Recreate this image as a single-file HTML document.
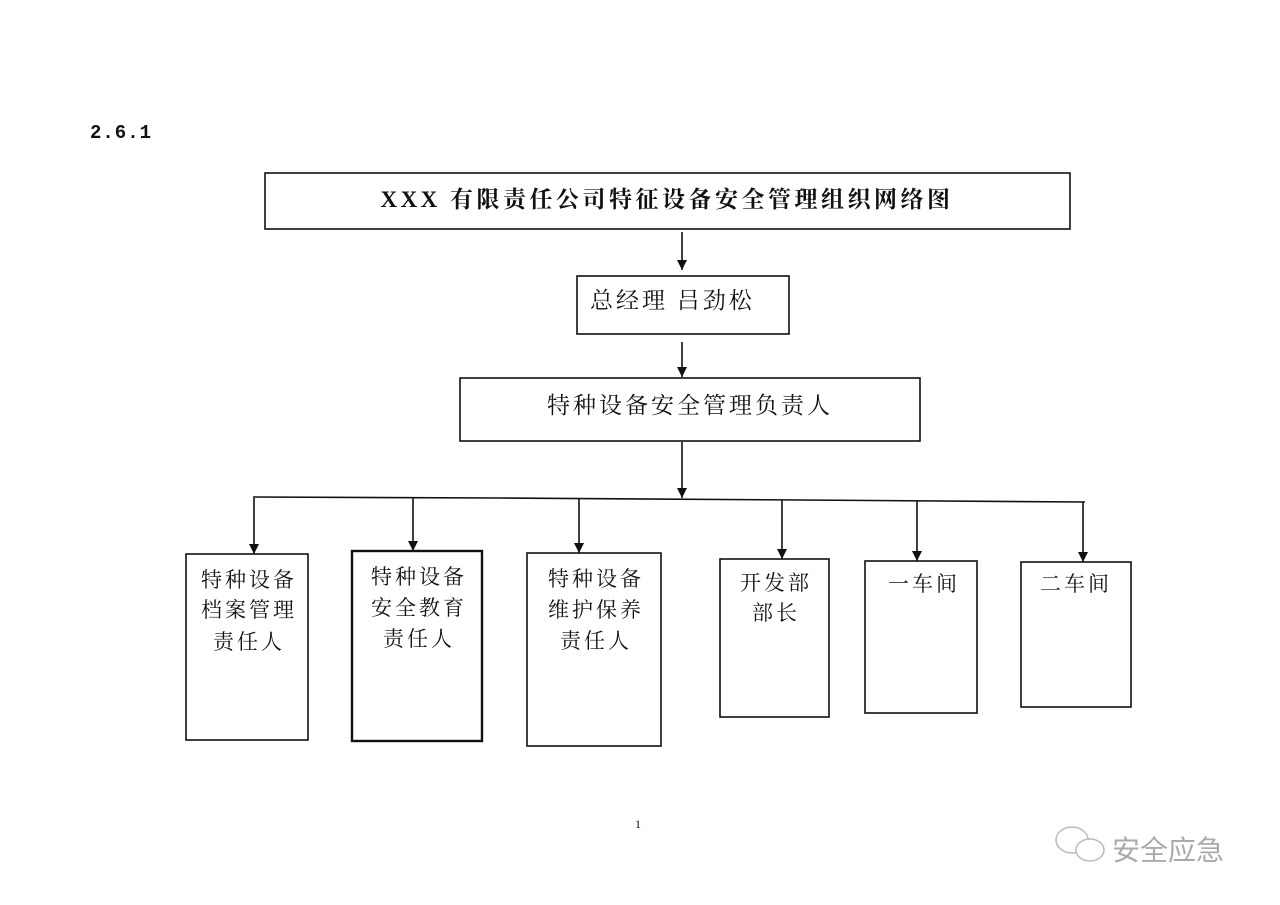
<!DOCTYPE html>
<html><head><meta charset="utf-8"><style>
body{margin:0;background:#fff;}
svg{display:block;}
text{font-family:"Liberation Serif","Noto Serif CJK SC","Noto Sans CJK SC",serif;fill:#111;}
</style></head><body>
<svg width="1280" height="905" viewBox="0 0 1280 905" xmlns="http://www.w3.org/2000/svg">
<defs><marker id="a" markerWidth="10" markerHeight="10" refX="10" refY="5" orient="auto" markerUnits="userSpaceOnUse"><path d="M0,0 L10,5 L0,10 z" fill="#111"/></marker></defs>
<text x="90" y="138" font-size="19" font-weight="bold" style="font-family:'Liberation Mono',monospace;letter-spacing:1px">2.6.1</text>
<g fill="none" stroke="#111" stroke-width="1.6">
<rect x="265" y="173" width="805" height="56"/>
<rect x="577" y="276" width="212" height="58"/>
<rect x="460" y="378" width="460" height="63"/>
<rect x="186" y="554" width="122" height="186"/>
<rect x="352" y="551" width="130" height="190" stroke-width="2.4"/>
<rect x="527" y="553" width="134" height="193"/>
<rect x="720" y="559" width="109" height="158"/>
<rect x="865" y="561" width="112" height="152"/>
<rect x="1021" y="562" width="110" height="145"/>
<line x1="682" y1="232" x2="682" y2="270" marker-end="url(#a)"/>
<line x1="682" y1="342" x2="682" y2="377" marker-end="url(#a)"/>
<line x1="682" y1="442" x2="682" y2="498" marker-end="url(#a)"/>
<polyline points="253,497 500,498 800,500 1085,502"/>
<line x1="254" y1="498" x2="254" y2="554" marker-end="url(#a)"/>
<line x1="413" y1="498" x2="413" y2="551" marker-end="url(#a)"/>
<line x1="579" y1="499" x2="579" y2="553" marker-end="url(#a)"/>
<line x1="782" y1="500" x2="782" y2="559" marker-end="url(#a)"/>
<line x1="917" y1="501" x2="917" y2="561" marker-end="url(#a)"/>
<line x1="1083" y1="502" x2="1083" y2="562" marker-end="url(#a)"/>
</g>
<text x="667" y="207" font-size="23" font-weight="bold" text-anchor="middle" style="letter-spacing:3.5px">XXX 有限责任公司特征设备安全管理组织网络图</text>
<text x="590" y="308" font-size="23" style="letter-spacing:3px">总经理  吕劲松</text>
<text x="690" y="413" font-size="23" text-anchor="middle" style="letter-spacing:3px">特种设备安全管理负责人</text>
<g font-size="21" text-anchor="middle" style="letter-spacing:3px">
<text x="249" y="587">特种设备</text><text x="249" y="617">档案管理</text><text x="249" y="649">责任人</text>
<text x="419" y="584">特种设备</text><text x="419" y="615">安全教育</text><text x="419" y="646">责任人</text>
<text x="596" y="586">特种设备</text><text x="596" y="617">维护保养</text><text x="596" y="648">责任人</text>
</g>
<g font-size="21" style="letter-spacing:3px">
<text x="740" y="590">开发部</text><text x="752" y="620">部长</text>
<text x="888" y="591">一车间</text>
<text x="1040" y="591">二车间</text>
</g>
<text x="635" y="828" font-size="12">1</text>
<g fill="none" stroke="#bbb" stroke-width="1.5">
<ellipse cx="1072" cy="840" rx="16" ry="13"/>
<ellipse cx="1090" cy="850" rx="14" ry="11" fill="#fff"/>
</g>
<text x="1112" y="860" font-size="28" style="fill:#aaa;font-family:'Noto Sans CJK SC',sans-serif">安全应急</text>
</svg>
</body></html>
